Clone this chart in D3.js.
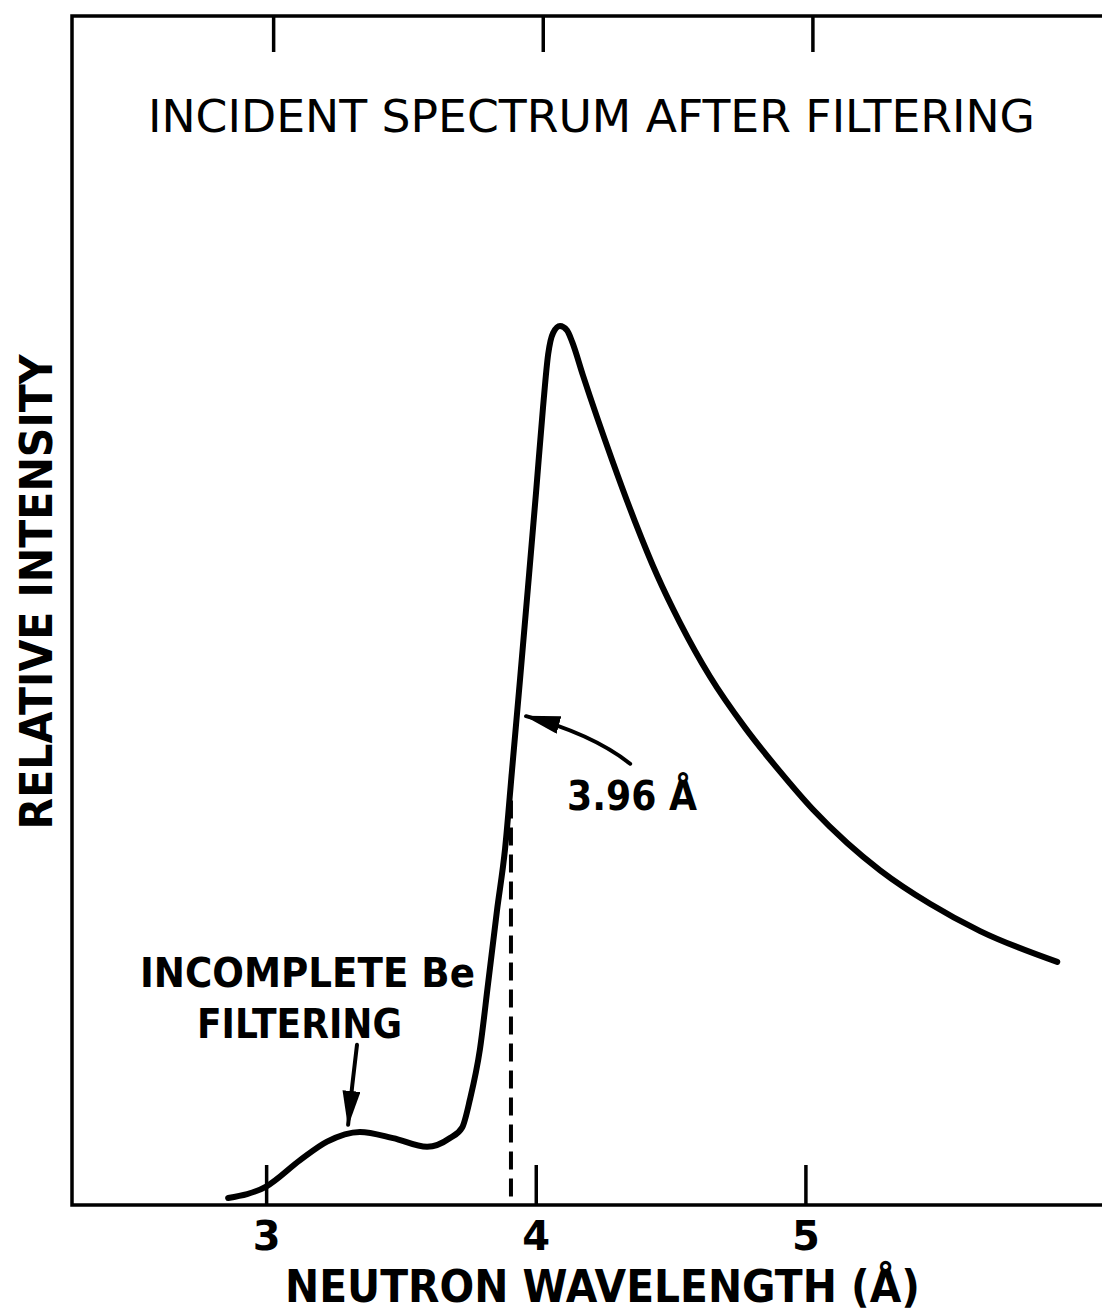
<!DOCTYPE html>
<html>
<head>
<meta charset="utf-8">
<script src="https://cdn.jsdelivr.net/npm/d3@7"></script>
<style>
  html, body { margin:0; padding:0; background:#fff; }
  svg { display:block; }
  .lbl { font-family:'DejaVu Sans', 'Liberation Sans', sans-serif; font-weight:bold; fill:#000; }
  .ttl { font-family:'DejaVu Sans Condensed', 'Liberation Sans Narrow', 'DejaVu Sans', sans-serif; fill:#000; }
</style>
</head>
<body>
<svg id="chart" width="1102" height="1314" viewBox="0 0 1102 1314"></svg>
<script>
// wavelength (Å) / relative intensity
const wavelength = [2.859, 3.000, 3.126, 3.226, 3.348, 3.471, 3.597, 3.682, 3.727, 3.756, 3.793, 3.823,
  3.856, 3.886, 3.912, 3.942, 3.971, 4.001, 4.027, 4.046, 4.064, 4.090, 4.116, 4.135, 4.175,
  4.283, 4.368, 4.450, 4.535, 4.646, 4.776, 4.906, 5.028, 5.155, 5.277, 5.462, 5.648, 5.934];
const intensity = [0.008, 0.021, 0.051, 0.072, 0.083, 0.076, 0.066, 0.076, 0.088, 0.120, 0.177, 0.251,
  0.334, 0.404, 0.494, 0.598, 0.701, 0.809, 0.906, 0.966, 0.990, 0.998, 0.993, 0.980, 0.942,
  0.846, 0.776, 0.715, 0.661, 0.600, 0.542, 0.492, 0.449, 0.411, 0.380, 0.342, 0.311, 0.276];
const xTicks = [3, 4, 5];
const xDomain = [2.28, 6.1];
const yDomain = [0, 1.35];
const cutoff = 3.908;       // dashed Be edge line
const cutoffTop = 0.49;

(function(){
  const svg = d3.select('#chart');
  const W = 1102, mLeft = 72, mTop = 16, mBottom = 1205;

  const x = d3.scaleLinear().domain(xDomain).range([mLeft, W]);
  const xTop = d3.scaleLinear().domain(xDomain).range([mLeft + 7, W + 7]); // top ticks sit a bit right in the original
  const y = d3.scaleLinear().domain(yDomain).range([mBottom, mTop]);

  // frame: left, top, bottom (open on the right)
  svg.append('path')
    .attr('d', `M${W},${mTop} H${mLeft} V${mBottom} H${W}`)
    .attr('fill','none').attr('stroke','#000').attr('stroke-width',3.5);

  // bottom axis, ticks pointing in
  const gx = svg.append('g').attr('transform',`translate(0,${mBottom})`)
    .call(d3.axisBottom(x).tickValues(xTicks).tickFormat(d3.format('d')).tickSizeInner(-40).tickSizeOuter(0).tickPadding(17));
  gx.select('.domain').remove();
  gx.selectAll('.tick line').attr('stroke','#000').attr('stroke-width',3.5);
  gx.selectAll('.tick text').attr('class','lbl').attr('font-size',40).attr('fill','#000');

  // top axis, ticks only
  const gt = svg.append('g').attr('transform',`translate(0,${mTop})`)
    .call(d3.axisTop(xTop).tickValues(xTicks).tickFormat('').tickSizeInner(-36).tickSizeOuter(0));
  gt.select('.domain').remove();
  gt.selectAll('.tick line').attr('stroke','#000').attr('stroke-width',3.5);

  // spectrum
  const pts = wavelength.map((w,i)=>[w, intensity[i]]);
  const line = d3.line().x(d=>x(d[0])).y(d=>y(d[1])).curve(d3.curveMonotoneX);
  svg.append('path').datum(pts)
    .attr('d', line)
    .attr('fill','none').attr('stroke','#000').attr('stroke-width',6)
    .attr('stroke-linecap','round').attr('stroke-linejoin','round');

  // dashed cutoff
  svg.append('line')
    .attr('x1', x(cutoff)).attr('x2', x(cutoff))
    .attr('y1', y(cutoffTop)).attr('y2', y(0))
    .attr('stroke','#000').attr('stroke-width',4).attr('stroke-dasharray','18,9');

  // arrows
  const defs = svg.append('defs');
  defs.append('marker').attr('id','head')
    .attr('viewBox','0 0 36 18').attr('refX',34).attr('refY',9)
    .attr('markerWidth',36).attr('markerHeight',18).attr('markerUnits','userSpaceOnUse')
    .attr('orient','auto')
    .append('path').attr('d','M0,0 L36,9 L0,18 Z').attr('fill','#000');

  const arrows = [
    [[3.337, 0.182], [3.319, 0.137], [3.304, 0.091]],   // Be filtering
    [[4.350, 0.501], [4.209, 0.535], [3.964, 0.555]]    // 3.96 Å
  ];
  arrows.forEach(a=>{
    const p = a.map(d=>[x(d[0]), y(d[1])]);
    svg.append('path')
      .attr('d', `M${p[0][0]},${p[0][1]} Q${p[1][0]},${p[1][1]} ${p[2][0]},${p[2][1]}`)
      .attr('fill','none').attr('stroke','#000').attr('stroke-width',4).attr('stroke-linecap','round')
      .attr('marker-end','url(#head)');
  });

  // texts
  svg.append('text').attr('class','ttl')
    .attr('x',148).attr('y',132).attr('font-size',44)
    .attr('textLength',887).attr('lengthAdjust','spacingAndGlyphs')
    .text('INCIDENT SPECTRUM  AFTER FILTERING');

  svg.append('text').attr('class','lbl')
    .attr('transform','translate(52,592) rotate(-90)')
    .attr('text-anchor','middle').attr('font-size',44)
    .attr('textLength',475).attr('lengthAdjust','spacingAndGlyphs')
    .text('RELATIVE  INTENSITY');

  svg.append('text').attr('class','lbl')
    .attr('x',285).attr('y',1302).attr('font-size',44)
    .attr('textLength',635).attr('lengthAdjust','spacingAndGlyphs')
    .text('NEUTRON  WAVELENGTH  (Å)');

  svg.append('text').attr('class','lbl')
    .attr('x',140).attr('y',987).attr('font-size',40)
    .attr('textLength',335).attr('lengthAdjust','spacingAndGlyphs')
    .text('INCOMPLETE Be');
  svg.append('text').attr('class','lbl')
    .attr('x',197).attr('y',1038).attr('font-size',40)
    .attr('textLength',205).attr('lengthAdjust','spacingAndGlyphs')
    .text('FILTERING');

  svg.append('text').attr('class','lbl')
    .attr('x',567).attr('y',810).attr('font-size',41)
    .attr('textLength',130).attr('lengthAdjust','spacingAndGlyphs')
    .text('3.96 Å');
})();
</script>
</body>
</html>
